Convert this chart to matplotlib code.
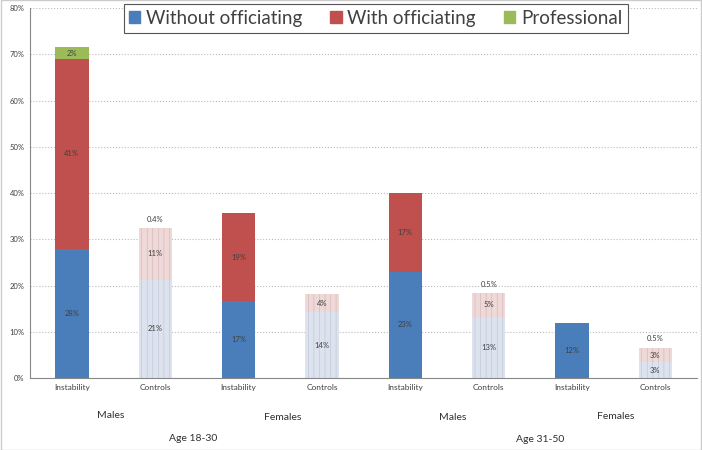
import numpy as np
import matplotlib.pyplot as plt

plt.rcParams['font.family'] = ['Lato', 'DejaVu Sans']
plt.rcParams['hatch.linewidth'] = 0.4

# data (percent)
bar_names = ["Instability", "Controls", "Instability", "Controls",
             "Instability", "Controls", "Instability", "Controls"]
without_off = [28, 21.3, 16.6, 14.2, 23, 13.3, 12, 3.4]
with_off = [41, 11.1, 19, 4, 17, 5, 0, 3.1]
professional = [2.5, 0.4, 0, 0, 0, 0.5, 0, 0.5]
lab_without = ["28%", "21%", "17%", "14%", "23%", "13%", "12%", "3%"]
lab_with = ["41%", "11%", "19%", "4%", "17%", "5%", "", "3%"]
lab_prof = ["2%", "0.4%", "", "", "", "0.5%", "", "0.5%"]
is_control = [False, True, False, True, False, True, False, True]

blue = '#4a7ebb'
red = '#c0504d'
green = '#9bbb59'

fig = plt.figure(figsize=(7.02, 4.5), dpi=100)
ax = fig.add_axes([0.043, 0.16, 0.95, 0.822])

x = np.arange(len(bar_names))
w = 0.4
for i in x:
    b0 = without_off[i]
    b1 = with_off[i]
    b2 = professional[i]
    if is_control[i]:
        ax.bar(i, b0, w, color='#dde3ee', edgecolor='#b9c4d6', hatch='|||', lw=0)
        ax.bar(i, b1, w, bottom=b0, color='#eed8d8', edgecolor='#d5b3b3', hatch='|||', lw=0)
    else:
        ax.bar(i, b0, w, color=blue, lw=0)
        ax.bar(i, b1, w, bottom=b0, color=red, lw=0)
        ax.bar(i, b2, w, bottom=b0 + b1, color=green, lw=0)
    ax.text(i, b0 / 2, lab_without[i], ha='center', va='center', fontsize=5.5, color='#404040')
    if lab_with[i]:
        ax.text(i, b0 + b1 / 2, lab_with[i], ha='center', va='center', fontsize=5.5, color='#404040')
    if lab_prof[i]:
        if is_control[i]:
            ax.text(i, b0 + b1 + b2 + 1.5, lab_prof[i], ha='center', va='center', fontsize=5.5, color='#404040')
        else:
            ax.text(i, b0 + b1 + b2 / 2, lab_prof[i], ha='center', va='center', fontsize=5.5, color='#404040')

ax.set_xlim(-0.5, 7.5)
ax.set_ylim(0, 80)
ax.set_yticks(np.arange(0, 81, 10))
ax.set_yticklabels([str(v) + "%" for v in range(0, 81, 10)], fontsize=5.5, color='#404040')
ax.set_xticks(x)
ax.set_xticklabels(bar_names, fontsize=6, color='#404040')
ax.tick_params(length=0, pad=4)
ax.yaxis.grid(True, linestyle=':', color='#bbbbbb', lw=0.8)
ax.set_axisbelow(True)
for s in ['top', 'right']:
    ax.spines[s].set_visible(False)
ax.spines['left'].set_color('#888888')
ax.spines['bottom'].set_color('#888888')

# group labels under the axis
groups = [("Males", 0.46, -8.2), ("Females", 2.53, -8.6), ("Age 18-30", 1.45, -13.1),
          ("Males", 4.57, -8.6), ("Females", 6.52, -8.4), ("Age 31-50", 5.62, -13.4)]
for txt, gx, gy in groups:
    ax.text(gx, gy, txt, ha='center', va='center', fontsize=7.5, color='#303030', clip_on=False)

handles = [plt.Rectangle((0, 0), 1, 1, color=c) for c in [blue, red, green]]
leg = fig.legend(handles, ["Without officiating", "With officiating", "Professional"],
                 loc='center', bbox_to_anchor=(0.535, 0.959), ncol=3, fontsize=13.5,
                 handlelength=0.6, handleheight=0.6, handletextpad=0.3, columnspacing=1.5,
                 fancybox=False, edgecolor='#555555', framealpha=1, borderpad=0.3)
leg.get_frame().set_linewidth(0.8)
for t in leg.get_texts():
    t.set_color('#404040')

fig.patches.append(plt.Rectangle((0.001, 0.001), 0.998, 0.998, transform=fig.transFigure,
                                 fill=False, edgecolor='#cccccc', lw=1))

plt.savefig('out.png', dpi=100)
